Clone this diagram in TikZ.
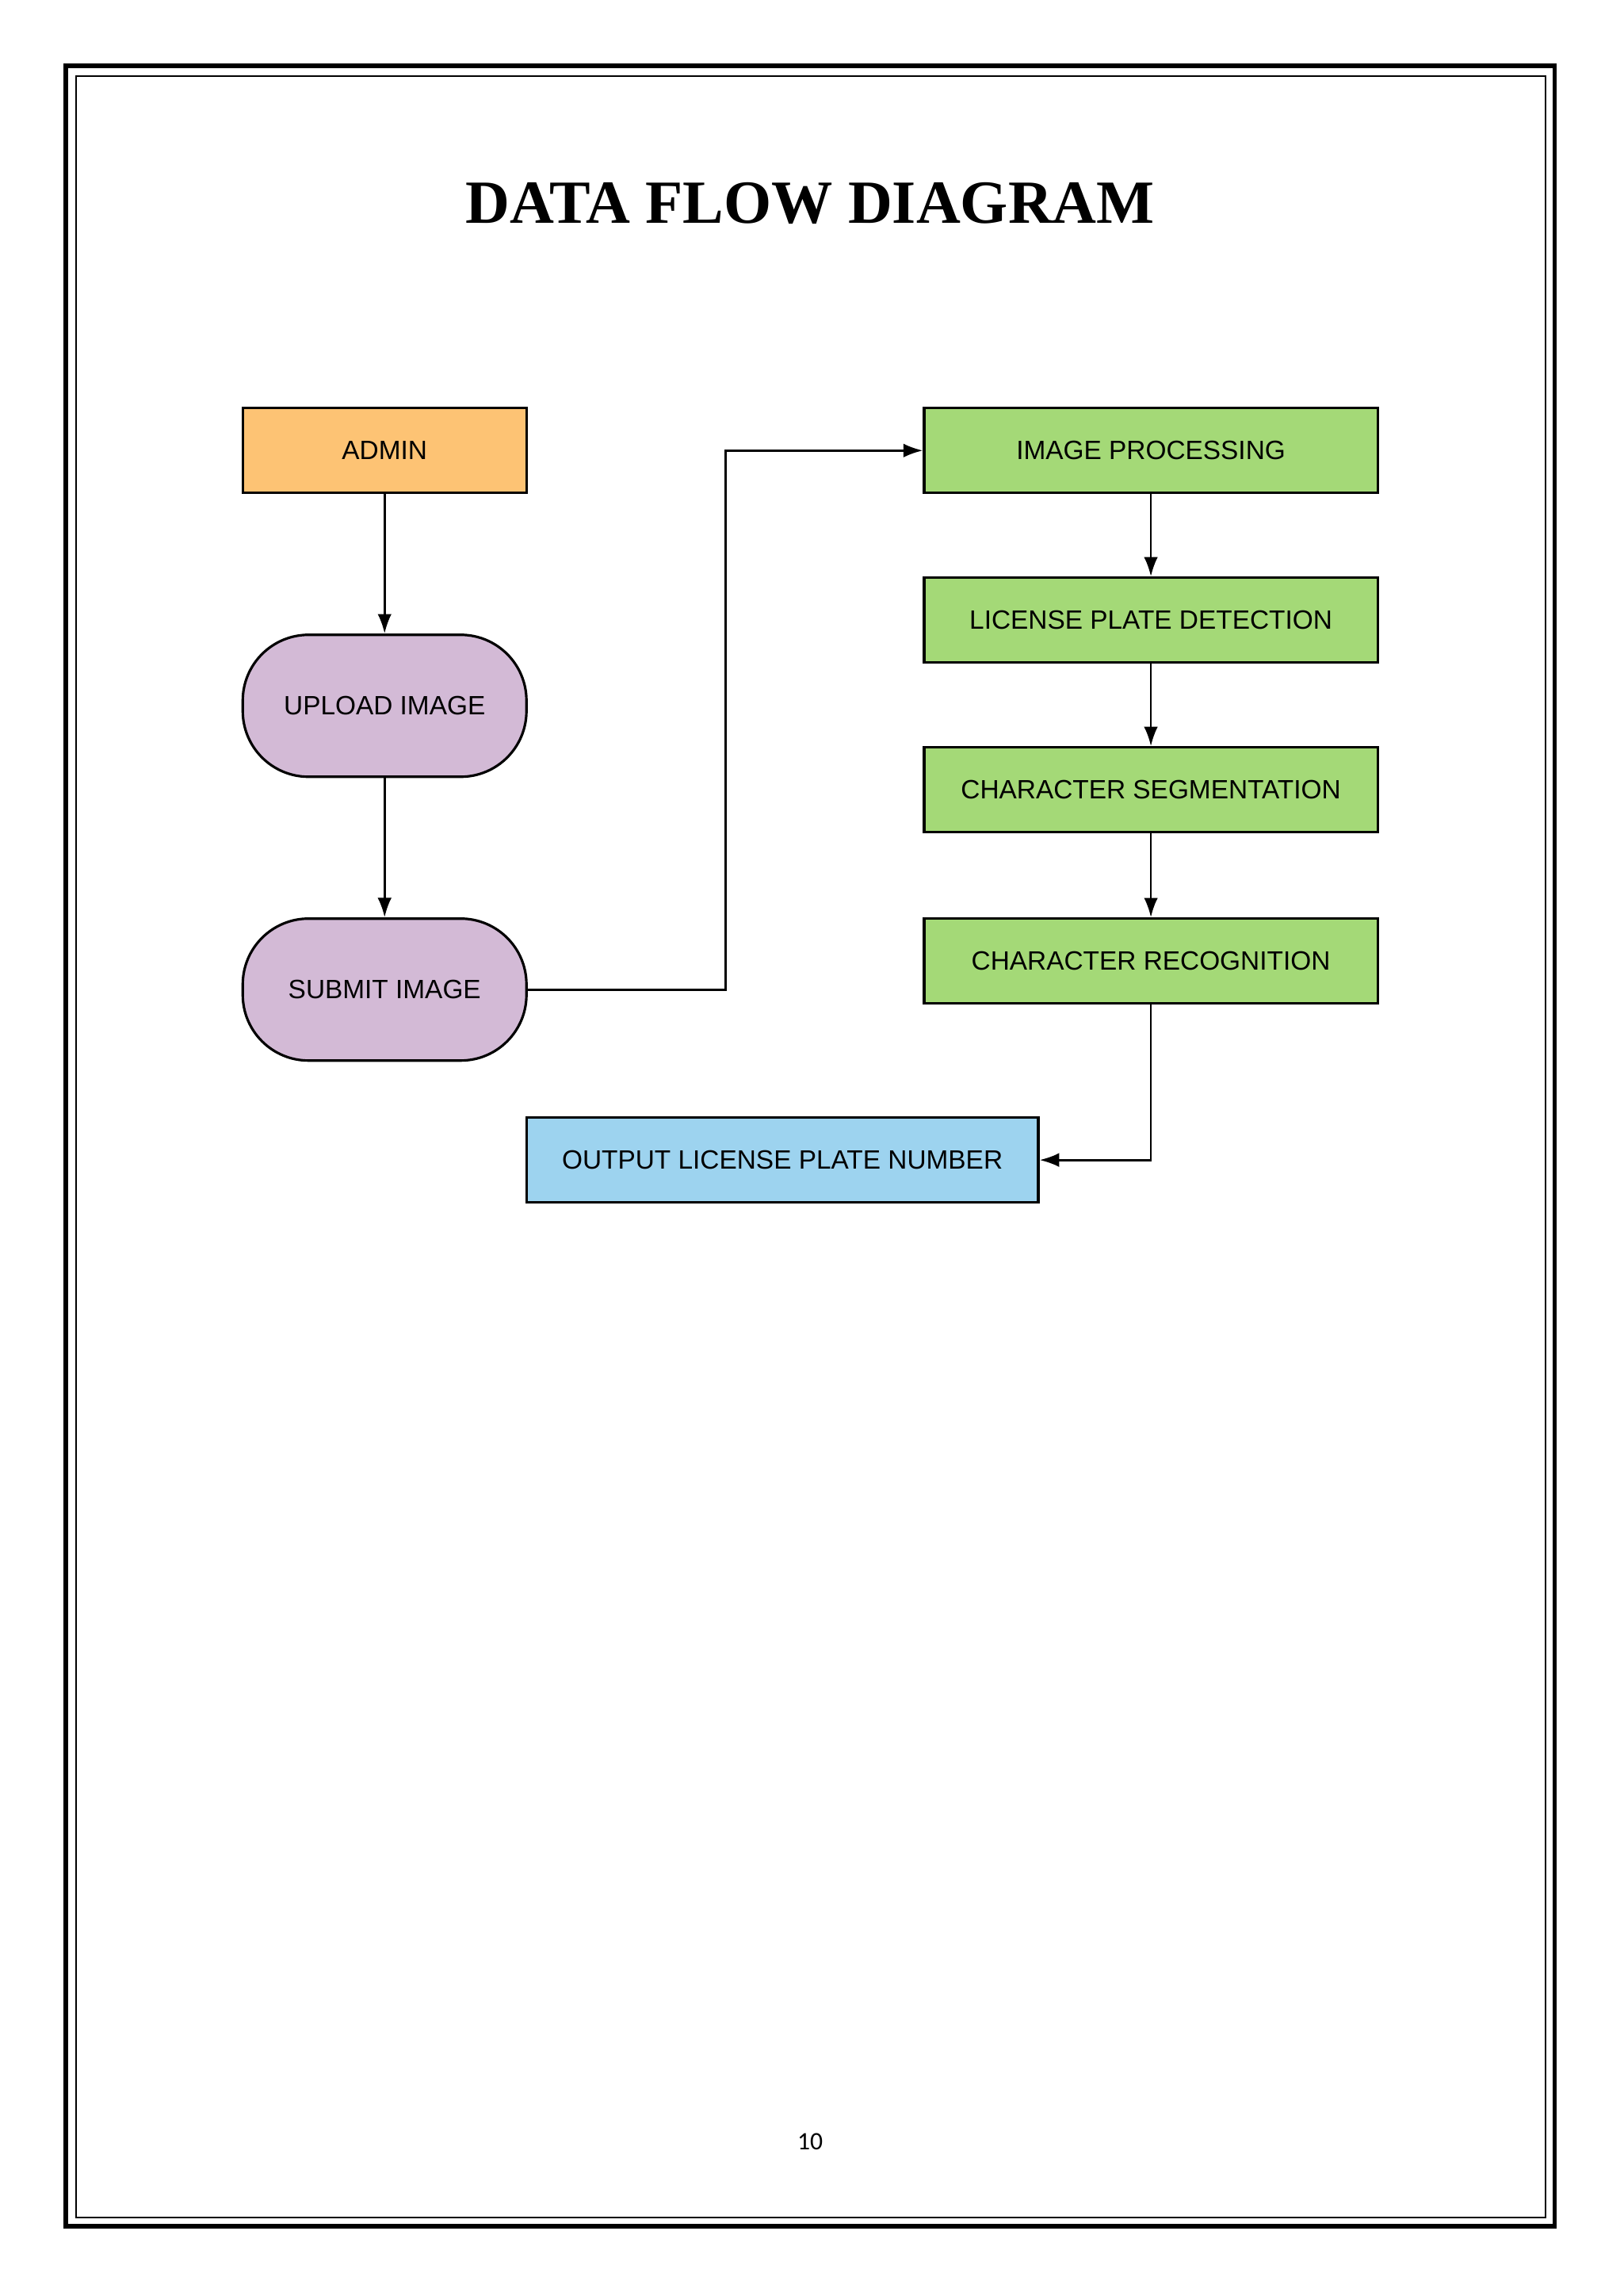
\documentclass[tikz,border=0pt]{standalone}
\usepackage{fontspec}
\setmainfont{Liberation Sans}
\newfontfamily\titlefont{Liberation Serif}
\newfontfamily\numfont{Carlito}
\usetikzlibrary{arrows.meta}
\definecolor{cOrange}{HTML}{FDC374}
\definecolor{cPurple}{HTML}{D3BAD6}
\definecolor{cGreen}{HTML}{A4D977}
\definecolor{cBlue}{HTML}{9DD3EF}
\begin{document}
\begin{tikzpicture}[x=0.01845cm,y=-0.01845cm,
  box/.style={draw=black,line width=0.9pt,minimum height=1.070cm,inner sep=0pt,font=\fontsize{9.5}{11}\selectfont},
  pill/.style={box,minimum width=3.579cm,minimum height=1.790cm,rounded corners=0.83cm,fill=cPurple},
  gbox/.style={box,fill=cGreen,minimum width=5.720cm},
  arr/.style={draw=black,line width=0.8pt,-{Latex[length=7pt,width=5pt]}}]
\useasboundingbox (0,0) rectangle (1110,1569.6);
\fill[white] (0,0) rectangle (1110,1569.6);
\draw[line width=1.6pt] (45,45) rectangle (1063,1522);
\draw[line width=0.6pt] (52,52) rectangle (1057,1516);
\node[font=\titlefont\bfseries\fontsize{22}{26}\selectfont] (title) at (554,139) {DATA FLOW DIAGRAM};
\node[box,fill=cOrange,minimum width=3.579cm] (admin) at (263,308) {ADMIN};
\node[pill] (upload) at (263,482.5) {UPLOAD IMAGE};
\node[pill] (submit) at (263,676.5) {SUBMIT IMAGE};
\node[gbox] (ip) at (787,308) {IMAGE PROCESSING};
\node[gbox] (lpd) at (787,424) {LICENSE PLATE DETECTION};
\node[gbox] (cs) at (787,540) {CHARACTER SEGMENTATION};
\node[gbox] (cr) at (787,657) {CHARACTER RECOGNITION};
\node[box,fill=cBlue,minimum width=6.458cm] (out) at (535,793) {OUTPUT LICENSE PLATE NUMBER};
\node[font=\numfont\fontsize{9}{11}\selectfont] (pg) at (554,1464) {10};
\draw[arr] (admin) -- (upload);
\draw[arr] (upload) -- (submit);
\draw[arr] (submit.east) -- (496,676.5) |- (ip.west);
\draw[arr] (ip) -- (lpd);
\draw[arr] (lpd) -- (cs);
\draw[arr] (cs) -- (cr);
\draw[arr] (cr.south) |- (out.east);
\end{tikzpicture}
\end{document}
